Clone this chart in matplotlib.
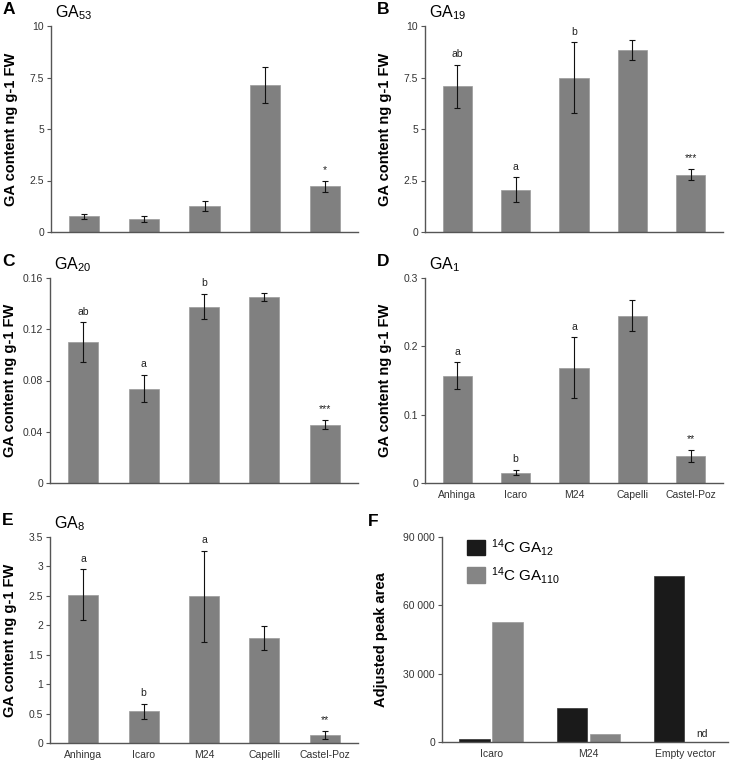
import numpy as np
import matplotlib
matplotlib.use('Agg')
import matplotlib.pyplot as plt
from matplotlib.patches import Patch

plt.rcParams['font.family'] = ['Liberation Sans', 'DejaVu Sans']
plt.rcParams['mathtext.fontset'] = 'custom'
plt.rcParams['mathtext.rm'] = 'Liberation Sans'
plt.rcParams['mathtext.it'] = 'Liberation Sans:italic'
plt.rcParams['mathtext.bf'] = 'Liberation Sans:bold'

W, H = 733, 763

# data
cultivars = ['Anhinga', 'Icaro', 'M24', 'Capelli', 'Castel-Poz']

ga53 = [0.76, 0.65, 1.25, 7.13, 2.22]
ga53_err = [0.12, 0.15, 0.24, 0.88, 0.28]
ga53_lab = ['', '', '', '', '*']

ga19 = [7.08, 2.06, 7.50, 8.82, 2.79]
ga19_err = [1.05, 0.60, 1.72, 0.48, 0.28]
ga19_lab = ['ab', 'a', 'b', '', '***']

ga20 = [0.1098, 0.0736, 0.1376, 0.1452, 0.0455]
ga20_err = [0.0155, 0.0107, 0.0099, 0.0034, 0.0036]
ga20_lab = ['ab', 'a', 'b', '', '***']

ga1 = [0.157, 0.0151, 0.169, 0.245, 0.040]
ga1_err = [0.0195, 0.004, 0.044, 0.023, 0.009]
ga1_lab = ['a', 'b', 'a', '', '**']

ga8 = [2.52, 0.54, 2.49, 1.78, 0.14]
ga8_err = [0.43, 0.13, 0.78, 0.20, 0.07]
ga8_lab = ['a', 'b', 'a', '', '**']

constructs = ['Icaro', 'M24', 'Empty vector']
ga12_area = [1200, 15100, 73000]
ga110_area = [52500, 3300, 0]

bar_gray = '#808080'
spine_col = '#555555'


def box(l, t, r, b):
    return [l / W, 1 - b / H, (r - l) / W, (b - t) / H]


fig = plt.figure(figsize=(W / 100, H / 100), dpi=100)


def style(ax):
    for s in ['top', 'right']:
        ax.spines[s].set_visible(False)
    for s in ['left', 'bottom']:
        ax.spines[s].set_color(spine_col)
        ax.spines[s].set_linewidth(1.0)
    ax.tick_params(axis='y', length=3, width=0.8, color=spine_col,
                   labelsize=7.5, pad=2, labelcolor='#333333')
    ax.tick_params(axis='x', length=0, labelsize=7.5, pad=5,
                   labelcolor='#333333')


def ga_panel(rect, vals, errs, labs, ymax, yticks, yticklabels, title, letter, show_x):
    ax = fig.add_axes(box(*rect))
    x = np.arange(len(vals))
    ax.bar(x, vals, width=0.5, color=bar_gray, edgecolor='#9a9a9a', linewidth=0.5,
           yerr=errs, error_kw=dict(ecolor='#111111', elinewidth=0.8, capsize=2, capthick=0.8))
    for xi, v, e, lab in zip(x, vals, errs, labs):
        if lab:
            ax.annotate(lab, (xi, v + e), xytext=(0, 4), textcoords='offset points',
                        ha='center', va='bottom', fontsize=7.5, color='#222222')
    ax.set_xlim(-0.55, len(vals) - 0.45)
    ax.set_ylim(0, ymax)
    ax.set_yticks(yticks)
    ax.set_yticklabels(yticklabels)
    ax.set_xticks(x)
    if show_x:
        ax.set_xticklabels(cultivars)
    else:
        ax.set_xticklabels([])
    style(ax)
    ax.set_ylabel('GA content ng g-1 FW', fontsize=10.5, fontweight='bold')
    ax.yaxis.set_label_coords(-33 / (rect[2] - rect[0]), 0.5)
    fig.text((rect[0] - 48) / W, 1 - 14 / H - (rect[1] - 26) / H, letter,
             fontsize=12.5, fontweight='bold', va='baseline')
    fig.text((rect[0] + 4) / W, 1 - 17 / H - (rect[1] - 26) / H, title,
             fontsize=11.5, va='baseline')
    return ax


ga_panel((51, 26, 358, 232), ga53, ga53_err, ga53_lab, 10,
         [0, 2.5, 5, 7.5, 10], ['0', '2.5', '5', '7.5', '10'], 'GA$_{53}$', 'A', False)
ga_panel((425, 26, 723, 232), ga19, ga19_err, ga19_lab, 10,
         [0, 2.5, 5, 7.5, 10], ['0', '2.5', '5', '7.5', '10'], 'GA$_{19}$', 'B', False)
ga_panel((50, 278, 358, 483), ga20, ga20_err, ga20_lab, 0.16,
         [0, 0.04, 0.08, 0.12, 0.16], ['0', '0.04', '0.08', '0.12', '0.16'], 'GA$_{20}$', 'C', False)
ga_panel((425, 278, 723, 483), ga1, ga1_err, ga1_lab, 0.3,
         [0, 0.1, 0.2, 0.3], ['0', '0.1', '0.2', '0.3'], 'GA$_{1}$', 'D', True)
ga_panel((50, 537, 358, 743), ga8, ga8_err, ga8_lab, 3.5,
         [0, 0.5, 1, 1.5, 2, 2.5, 3, 3.5], ['0', '0.5', '1', '1.5', '2', '2.5', '3', '3.5'],
         'GA$_{8}$', 'E', True)

# panel F
axf = fig.add_axes(box(442, 537, 728, 742))
xf = np.arange(len(constructs))
axf.bar(xf - 0.17, ga12_area, width=0.31, color='#1a1a1a', edgecolor='#333333', linewidth=0.5)
axf.bar(xf + 0.17, ga110_area, width=0.31, color='#858585', edgecolor='#9a9a9a', linewidth=0.5)
axf.text(2 + 0.17, 1200, 'nd', ha='center', va='bottom', fontsize=7.5, color='#222222')
axf.set_xlim(-0.505, 2.44)
axf.set_ylim(0, 90000)
axf.set_yticks([0, 30000, 60000, 90000])
axf.set_yticklabels(['0', '30 000', '60 000', '90 000'])
axf.set_xticks(xf)
axf.set_xticklabels(constructs)
style(axf)
axf.set_ylabel('Adjusted peak area', fontsize=10.5, fontweight='bold')
axf.yaxis.set_label_coords(-54 / (728 - 442), 0.5)
handles = [Patch(facecolor='#1a1a1a', edgecolor='#1a1a1a'),
           Patch(facecolor='#858585', edgecolor='#858585')]
axf.legend(handles, ['$^{14}$C GA$_{12}$', '$^{14}$C GA$_{110}$'], loc='upper left',
           bbox_to_anchor=((467 - 442) / 286, 1.0), frameon=False, fontsize=11,
           handlelength=1.2, handleheight=1.2, handletextpad=0.4, labelspacing=0.45,
           borderaxespad=0, borderpad=0)
fig.text(368 / W, 1 - 526 / H, 'F', fontsize=12.5, fontweight='bold', va='baseline')

fig.savefig('out.png', dpi=100)
